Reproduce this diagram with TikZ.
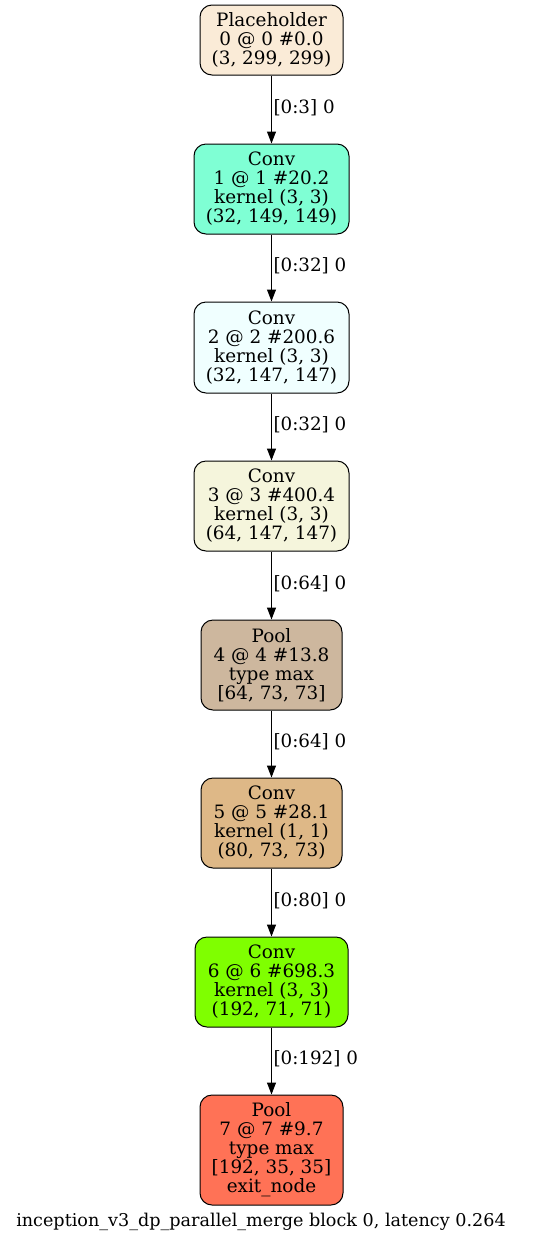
\documentclass[tikz,border=0pt]{standalone}
\usepackage{fontspec}
\setmainfont{DejaVu Serif}
\usetikzlibrary{arrows.meta}
\definecolor{cPlace}{HTML}{FAEBD7}
\definecolor{cConvA}{HTML}{7FFFD4}
\definecolor{cConvB}{HTML}{F0FFFF}
\definecolor{cConvC}{HTML}{F5F5DC}
\definecolor{cPoolA}{HTML}{CDB79E}
\definecolor{cConvD}{HTML}{DEB887}
\definecolor{cConvE}{HTML}{7FFF00}
\definecolor{cPoolB}{HTML}{FF7256}
\begin{document}
\begin{tikzpicture}[x=1pt,y=1pt,
  opnode/.style={draw=black, line width=1pt, rounded corners=12pt,
    align=center, inner sep=0pt,
    font=\fontsize{18.4}{19}\selectfont},
  flow/.style={line width=1pt, -{Triangle[length=12pt,width=9pt]}},
  elabel/.style={right, inner sep=1.5pt, font=\fontsize{18.3}{19}\selectfont}]
\useasboundingbox (0,0) rectangle (552,-1243);

\node[opnode, fill=cPlace, minimum width=143pt, minimum height=70pt] (n0) at (271.5,-40)
  {Placeholder\\0 @ 0 \#0.0\\(3, 299, 299)};
\node[opnode, fill=cConvA, minimum width=155pt, minimum height=90pt] (n1) at (271.5,-189)
  {Conv\\1 @ 1 \#20.2\\kernel (3, 3)\\(32, 149, 149)};
\node[opnode, fill=cConvB, minimum width=155pt, minimum height=91pt] (n2) at (271.5,-347.5)
  {Conv\\2 @ 2 \#200.6\\kernel (3, 3)\\(32, 147, 147)};
\node[opnode, fill=cConvC, minimum width=155pt, minimum height=90pt] (n3) at (271.5,-506)
  {Conv\\3 @ 3 \#400.4\\kernel (3, 3)\\(64, 147, 147)};
\node[opnode, fill=cPoolA, minimum width=141pt, minimum height=90pt] (n4) at (271.5,-665)
  {Pool\\4 @ 4 \#13.8\\type max\\{[64, 73, 73]}};
\node[opnode, fill=cConvD, minimum width=141pt, minimum height=90pt] (n5) at (271.5,-823)
  {Conv\\5 @ 5 \#28.1\\kernel (1, 1)\\(80, 73, 73)};
\node[opnode, fill=cConvE, minimum width=153pt, minimum height=90pt] (n6) at (271.5,-982)
  {Conv\\6 @ 6 \#698.3\\kernel (3, 3)\\(192, 71, 71)};
\node[opnode, fill=cPoolB, minimum width=143pt, minimum height=110pt] (n7) at (271.5,-1150)
  {Pool\\7 @ 7 \#9.7\\type max\\{[192, 35, 35]}\\exit\_node};

\draw[flow] (n0) -- node[elabel, pos=0.47] {[0:3] 0} (n1);
\draw[flow] (n1) -- node[elabel, pos=0.47] {[0:32] 0} (n2);
\draw[flow] (n2) -- node[elabel, pos=0.47] {[0:32] 0} (n3);
\draw[flow] (n3) -- node[elabel, pos=0.47] {[0:64] 0} (n4);
\draw[flow] (n4) -- node[elabel, pos=0.47] {[0:64] 0} (n5);
\draw[flow] (n5) -- node[elabel, pos=0.47] {[0:80] 0} (n6);
\draw[flow] (n6) -- node[elabel, pos=0.47] {[0:192] 0} (n7);

\node[font=\fontsize{17.6}{19}\selectfont, inner sep=0pt] (cap) at (261,-1222)
  {inception\_v3\_dp\_parallel\_merge block 0, latency 0.264};
\end{tikzpicture}
\end{document}
